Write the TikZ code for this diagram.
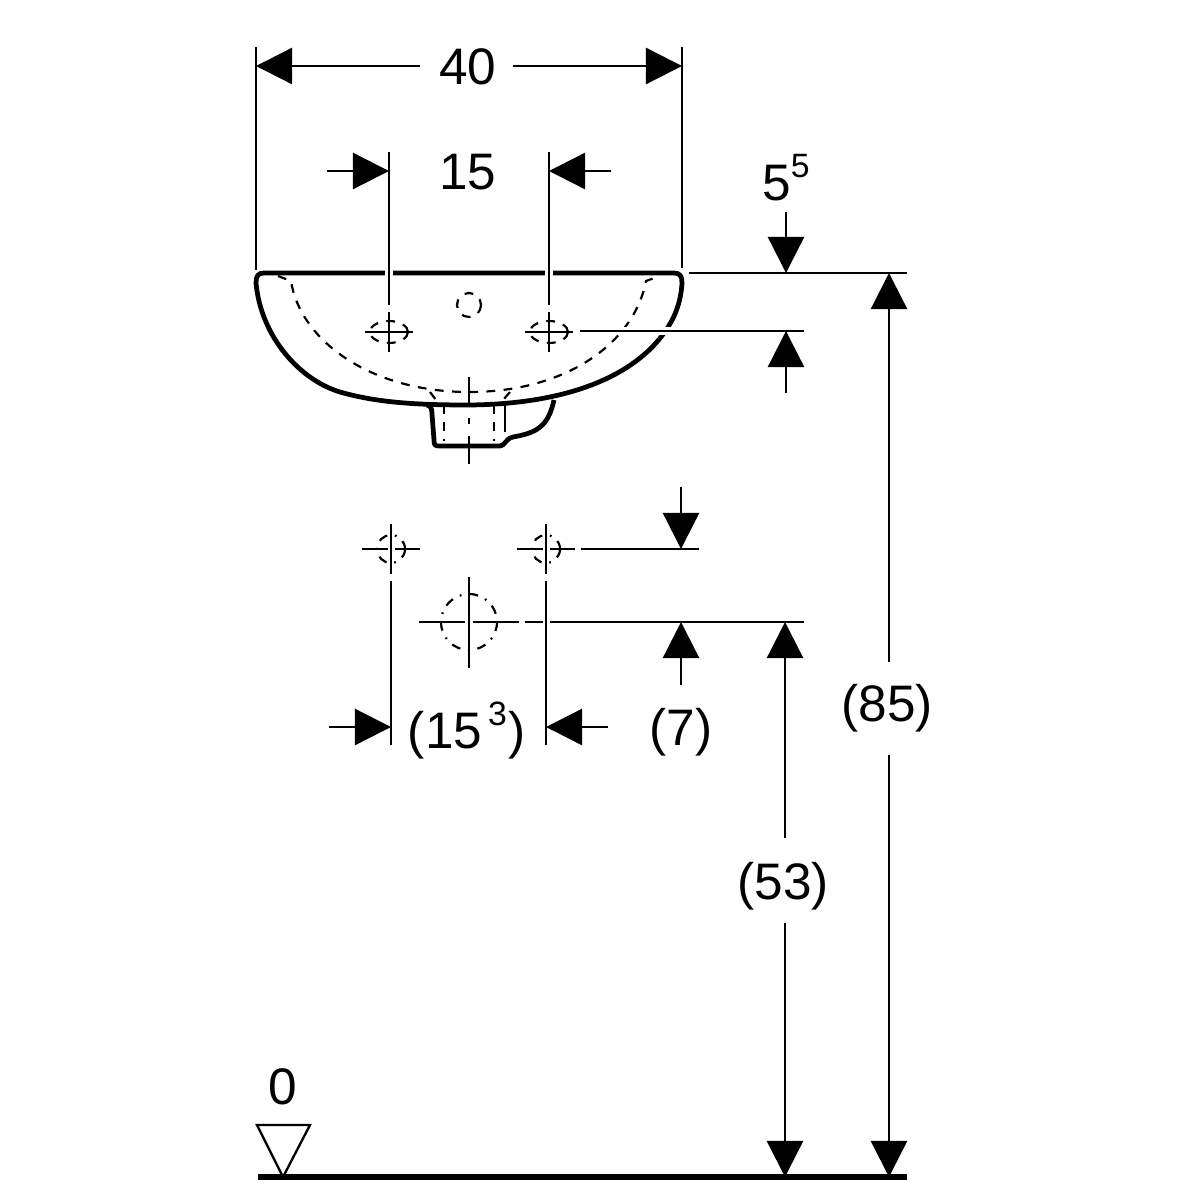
\documentclass[tikz,border=0pt]{standalone}
\usepackage{fontspec}
\setmainfont{Liberation Sans}
\usetikzlibrary{arrows.meta}
\tikzset{
  thinline/.style={black, line width=0.66pt},
  outline/.style={black, line width=1.35pt, line join=round},
  hidden/.style={black, line width=0.62pt, dash pattern=on 2.5pt off 2.4pt},
  dotdash/.style={black, line width=0.62pt, dash pattern=on 2.6pt off 2.2pt on 0.5pt off 2.2pt},
  dimarrow/.style={thinline, -{Triangle[length=3.6mm, width=3.6mm]}},
  dimtext/.style={anchor=base, inner sep=0pt, font=\fontsize{14.6}{15}\selectfont},
}
\newcommand{\supnum}[1]{\raisebox{2.2mm}{\fontsize{9.6}{10}\selectfont #1}}
\begin{document}
\begin{tikzpicture}[x=0.01cm, y=-0.01cm]
  \useasboundingbox (0,0) rectangle (1200,1200);

  % basin, seen from the side
  \draw[outline] (256,283) .. controls (256,276) and (258,273) .. (264,273) -- (674,273)
    .. controls (680,273) and (682,276) .. (682,283)
    .. controls (681,300) and (676,315) .. (668,327)
    .. controls (640,372) and (575,404) .. (469,405)
    .. controls (420,405) and (378,403) .. (340,392)
    .. controls (300,380) and (261,337) .. (256,283) -- cycle;
  \draw[outline] (427,405) .. controls (431,406) and (432,409) .. (432,414) -- (434,440)
    .. controls (434,445) and (435,446) .. (439,446) -- (500,446)
    .. controls (505,446) and (505,439) .. (513,437)
    .. controls (535,433) and (548,428) .. (554,400);
  \draw[thinline] (505,405) -- (505,432);
  \draw[hidden] (278,276) -- (291,281) .. controls (300,340) and (370,392) .. (469,392)
    .. controls (570,392) and (635,340) .. (646,281) -- (660,276);
  \draw[hidden] (430,392) -- (436,400);
  \draw[hidden] (510,392) -- (503,400);
  \draw[hidden] (444,405) -- (444,441);
  \draw[hidden] (494,405) -- (494,441);
  \draw[hidden] (469,305) circle [radius=12];
  \draw[hidden] (389,332) ellipse [x radius=19, y radius=11];
  \draw[hidden] (549,332) ellipse [x radius=19, y radius=11];

  % gaps in the rim and the outline
  \draw[white, line width=2pt] (389,268) -- (389,278);
  \draw[white, line width=2pt] (549,268) -- (549,278);
  \draw[white, line width=2pt] (582,331) -- (804,331);

  % centre lines of the basin
  \draw[thinline] (389,152) -- (389,305);
  \draw[thinline] (389,312) -- (389,352);
  \draw[thinline] (365,332) -- (413,332);
  \draw[thinline] (549,152) -- (549,305);
  \draw[thinline] (549,312) -- (549,352);
  \draw[thinline] (525,332) -- (573,332);
  \draw[thinline] (469,377) -- (469,405);
  \draw[thinline] (469,418) -- (469,424);
  \draw[thinline] (469,436) -- (469,464);

  % holes below the basin
  \draw[dotdash] (391,549) circle [radius=14];
  \draw[dotdash] (546,549) circle [radius=14];
  \draw[dotdash] (469,622) circle [radius=28];
  \draw[thinline] (362,549) -- (388,549);
  \draw[thinline] (395,549) -- (420,549);
  \draw[thinline] (391,524) -- (391,574);
  \draw[thinline] (391,581) -- (391,745);
  \draw[thinline] (517,549) -- (543,549);
  \draw[thinline] (550,549) -- (575,549);
  \draw[thinline] (546,524) -- (546,574);
  \draw[thinline] (546,581) -- (546,745);
  \draw[thinline] (419,622) -- (465,622);
  \draw[thinline] (473,622) -- (519,622);
  \draw[thinline] (525,622) -- (543,622);
  \draw[thinline] (469,577) -- (469,668);

  % extension lines
  \draw[thinline] (256,47) -- (256,270);
  \draw[thinline] (682,47) -- (682,268);
  \draw[thinline] (689,273) -- (907,273);
  \draw[thinline] (580,331) -- (804,331);
  \draw[thinline] (581,549) -- (699,549);
  \draw[thinline] (550,622) -- (804,622);

  % dimensions
  \node[dimtext] (width40) at (468,84) {40};
  \draw[dimarrow] (420,66) -- (256,66);
  \draw[dimarrow] (513,66) -- (682,66);
  \node[dimtext] (holes15) at (468,189) {15};
  \draw[dimarrow] (327,171) -- (389,171);
  \draw[dimarrow] (611,171) -- (549,171);
  \node[dimtext] (rim5) at (786,200) {5\supnum{5}};
  \draw[dimarrow] (786,212) -- (786,273);
  \draw[dimarrow] (786,393) -- (786,331);
  \node[dimtext] (holes153) at (467,748) {(15\hspace{0.6mm}\supnum{3}\hspace{0.2mm})};
  \draw[dimarrow] (329,727) -- (391,727);
  \draw[dimarrow] (608,727) -- (546,727);
  \node[dimtext] (drop7) at (681,745) {(7)};
  \draw[dimarrow] (681,487) -- (681,549);
  \draw[dimarrow] (681,685) -- (681,622);
  \node[dimtext] (total85) at (887,721) {(85)};
  \draw[dimarrow] (889,662) -- (889,273);
  \draw[dimarrow] (889,755) -- (889,1177);
  \node[dimtext] (height53) at (783,899) {(53)};
  \draw[dimarrow] (785,838) -- (785,622);
  \draw[dimarrow] (785,923) -- (785,1177);

  % floor level
  \draw[black, line width=1.5pt] (258,1177) -- (907,1177);
  \draw[thinline, line join=miter] (257,1125) -- (310,1125) -- (283,1177) -- cycle;
  \node[dimtext] (floor0) at (283,1104) {0};
\end{tikzpicture}
\end{document}
